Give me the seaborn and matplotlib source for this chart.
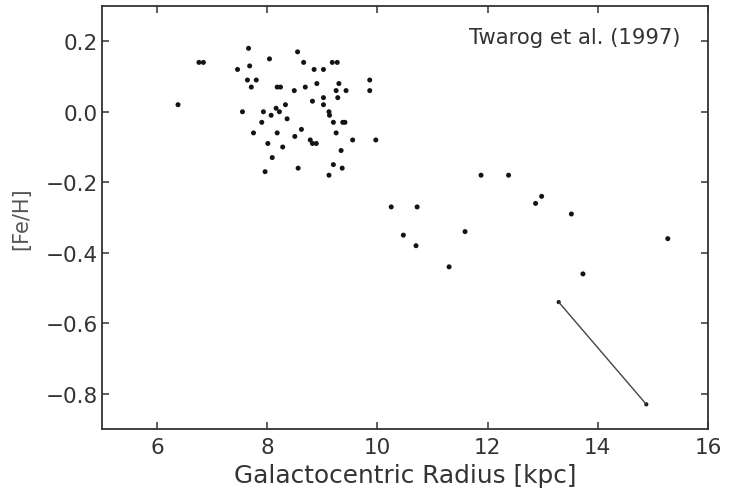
import matplotlib
matplotlib.use("Agg")
import matplotlib.pyplot as plt
import numpy as np
import pandas as pd
import seaborn as sns

# Open-cluster metallicities versus galactocentric distance
radius_kpc = [
    6.38, 6.76, 6.84, 7.46, 7.66, 7.68, 7.64, 7.80, 7.71, 8.04,
    7.55, 7.75, 7.93, 7.90, 8.07, 8.16, 8.22, 8.33, 8.36, 8.18,
    8.24, 8.49, 8.55, 8.66, 8.69, 8.85, 9.02, 8.90, 8.82, 9.02,
    9.02, 9.18, 9.27, 9.30, 9.25, 9.43, 9.28, 9.12, 9.13, 9.20,
    9.37, 9.41, 9.25, 9.55, 9.97, 9.86, 9.86, 8.18, 8.01, 8.28,
    8.09, 8.50, 8.62, 8.78, 8.82, 8.89, 9.34, 9.20, 9.36, 7.96,
    8.56, 9.12, 10.25, 10.72, 10.47, 10.70, 11.30, 11.59, 11.88, 12.38,
    12.87, 12.98, 13.52, 13.73, 15.27,
]
fe_h = [
    0.02, 0.14, 0.14, 0.12, 0.18, 0.13, 0.09, 0.09, 0.07, 0.15,
    0.00, -0.06, 0.00, -0.03, -0.01, 0.01, 0.00, 0.02, -0.02, 0.07,
    0.07, 0.06, 0.17, 0.14, 0.07, 0.12, 0.12, 0.08, 0.03, 0.04,
    0.02, 0.14, 0.14, 0.08, 0.06, 0.06, 0.04, 0.00, -0.01, -0.03,
    -0.03, -0.03, -0.06, -0.08, -0.08, 0.09, 0.06, -0.06, -0.09, -0.10,
    -0.13, -0.07, -0.05, -0.08, -0.09, -0.09, -0.11, -0.15, -0.16, -0.17,
    -0.16, -0.18, -0.27, -0.27, -0.35, -0.38, -0.44, -0.34, -0.18, -0.18,
    -0.26, -0.24, -0.29, -0.46, -0.36,
]

# Cluster with two distance estimates, joined by a line
pair_radius_kpc = [13.29, 14.88]
pair_fe_h = [-0.54, -0.83]

x_ticks = [6, 8, 10, 12, 14, 16]
y_ticks = [0.2, 0.0, -0.2, -0.4, -0.6, -0.8]

sns.set_theme(style="ticks")
plt.rcParams["font.family"] = ["DejaVu Sans"]

ink = "#333333"
fig = plt.figure(figsize=(7.29, 4.89), dpi=100)
ax = fig.add_axes([102 / 729, 1 - 430 / 489, 606 / 729, 423 / 489])

clusters = pd.DataFrame({"R": radius_kpc, "FeH": fe_h})
pair = pd.DataFrame({"R": pair_radius_kpc, "FeH": pair_fe_h})

sns.scatterplot(data=clusters, x="R", y="FeH", ax=ax, color="#141414",
                s=13, marker="o", edgecolor="none", linewidth=0)
sns.lineplot(data=pair, x="R", y="FeH", ax=ax, color="#444444",
             linewidth=1.0, sort=False)
sns.scatterplot(data=pair, x="R", y="FeH", ax=ax, color="#141414",
                s=9, marker="o", edgecolor="none", linewidth=0)

ax.set_xlim(5, 16)
ax.set_ylim(-0.9, 0.3)
ax.set_xticks(x_ticks)
ax.set_yticks(y_ticks)

ax.tick_params(direction="in", top=True, right=True, length=5, width=1.1,
               color=ink, labelsize=15.5, labelcolor=ink)
ax.tick_params(axis="y", pad=3)
ax.tick_params(axis="x", pad=6)
for side in ax.spines.values():
    side.set_color(ink)
    side.set_linewidth(1.3)

ax.set_xlabel("Galactocentric Radius [kpc]", fontsize=17.8, color=ink, labelpad=4)
ax.set_ylabel("[Fe/H]", fontsize=15, color="#555555", labelpad=10)

ax.text(0.955, 0.927, "Twarog et al. (1997)", transform=ax.transAxes,
        ha="right", va="center", fontsize=15.2, color=ink)

fig.savefig("out.png", dpi=100)
